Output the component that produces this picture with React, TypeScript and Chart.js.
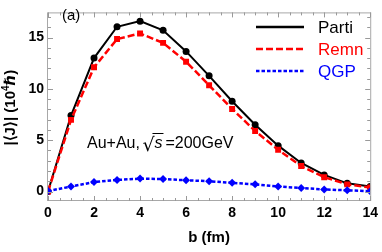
import React, { useEffect, useRef } from 'react';
import { Chart, registerables } from 'chart.js';

Chart.register(...registerables);

const bValues = [0, 1, 2, 3, 4, 5, 6, 7, 8, 9, 10, 11, 12, 13, 14];
const partiValues = [0, 7.4, 13.0, 16.05, 16.6, 15.7, 13.65, 11.27, 8.8, 6.5, 4.47, 2.78, 1.62, 0.8, 0.49];
const remnValues = [0, 6.98, 12.1, 14.85, 15.4, 14.48, 12.65, 10.35, 8.05, 5.9, 4.07, 2.48, 1.4, 0.7, 0.4];
const qgpValues = [0.05, 0.49, 0.92, 1.13, 1.26, 1.22, 1.1, 1.01, 0.85, 0.7, 0.49, 0.34, 0.21, 0.12, 0.03];
const seriesLabels = ['Parti', 'Remn', 'QGP'];
const xTickValues = [0, 2, 4, 6, 8, 10, 12, 14];
const yTickValues = [0, 5, 10, 15];
const xTitle = 'b (fm)';
const panelLabel = '(a)';

const FONT = '"Liberation Sans", Arial, Helvetica, sans-serif';

const framePlugin = {
  id: 'framePlugin',
  afterDraw(chart: any) {
    const { ctx, chartArea } = chart;
    const { left, right, top, bottom } = chartArea;
    const xs = chart.scales.x;
    const ys = chart.scales.y;
    ctx.save();
    // frame
    ctx.strokeStyle = '#a8a8a8';
    ctx.lineWidth = 1;
    ctx.strokeRect(left - 0.5, top + 0.5, right - left + 1, bottom - top - 1);
    // ticks
    ctx.strokeStyle = '#999';
    ctx.beginPath();
    for (let v = xs.min; v <= xs.max + 1e-6; v += 0.5) {
      const major = Math.abs(v / 2 - Math.round(v / 2)) < 1e-6;
      const len = major ? 5 : 3;
      const px = Math.round(xs.getPixelForValue(v)) + 0.5;
      ctx.moveTo(px, bottom);
      ctx.lineTo(px, bottom - len);
      ctx.moveTo(px, top);
      ctx.lineTo(px, top + len);
    }
    for (let v = 0; v <= ys.max + 1e-6; v += 1) {
      const major = v % 5 === 0;
      const len = major ? 5 : 3;
      const py = Math.round(ys.getPixelForValue(v)) + 0.5;
      ctx.moveTo(left, py);
      ctx.lineTo(left + len, py);
      ctx.moveTo(right, py);
      ctx.lineTo(right - len, py);
    }
    ctx.stroke();

    // legend
    const ds = chart.data.datasets;
    const legendY = [27, 49, 71];
    ds.forEach((d: any, i: number) => {
      ctx.beginPath();
      ctx.strokeStyle = d.borderColor;
      ctx.lineWidth = 2.5;
      ctx.setLineDash(d.borderDash || []);
      ctx.moveTo(256, legendY[i]);
      ctx.lineTo(304, legendY[i]);
      ctx.stroke();
      ctx.setLineDash([]);
      ctx.fillStyle = d.borderColor;
      ctx.font = `17px ${FONT}`;
      ctx.textBaseline = 'middle';
      ctx.textAlign = 'left';
      ctx.fillText(d.label, 318, legendY[i] + 1);
    });

    // panel label
    ctx.fillStyle = '#000';
    ctx.font = `15px ${FONT}`;
    ctx.textBaseline = 'middle';
    ctx.fillText(panelLabel, 62, 16);

    // Au+Au annotation
    ctx.textBaseline = 'alphabetic';
    ctx.font = `16px ${FONT}`;
    let x = 87;
    const base = 148;
    const t1 = 'Au+Au, ';
    ctx.fillText(t1, x, base);
    x += ctx.measureText(t1).width - 2;
    ctx.font = `19px "DejaVu Sans", ${FONT}`;
    ctx.fillText('\u221A', x, base + 3);
    const rw = ctx.measureText('\u221A').width;
    x += rw - 1;
    ctx.font = `italic 16px ${FONT}`;
    const sw = ctx.measureText('s').width;
    ctx.fillText('s', x + 1, base);
    ctx.beginPath();
    ctx.strokeStyle = '#000';
    ctx.lineWidth = 1;
    ctx.moveTo(x - 1, 133.5);
    ctx.lineTo(x + sw + 2, 133.5);
    ctx.stroke();
    x += sw + 4;
    ctx.font = `16px ${FONT}`;
    ctx.fillText('=200GeV', x, base);

    // x title
    ctx.font = `bold 15px ${FONT}`;
    ctx.textAlign = 'center';
    ctx.textBaseline = 'middle';
    ctx.fillText(xTitle, (left + right) / 2, 238);

    // y title
    ctx.save();
    ctx.translate(11, (top + bottom) / 2 + 1);
    ctx.rotate(-Math.PI / 2);
    const parts: [string, string, number][] = [
      ['|\u27E8J\u27E9| (10', `bold 15px ${FONT}`, 0],
      ['4', `bold 10px ${FONT}`, -5],
      ['\u210F', `bold italic 15px "DejaVu Sans", ${FONT}`, 0],
      [')', `bold 15px ${FONT}`, 0],
    ];
    let total = 0;
    parts.forEach((p) => {
      ctx.font = p[1];
      total += ctx.measureText(p[0]).width;
    });
    let cx = -total / 2;
    ctx.textAlign = 'left';
    ctx.textBaseline = 'middle';
    parts.forEach((p) => {
      ctx.font = p[1];
      ctx.fillText(p[0], cx, p[2]);
      cx += ctx.measureText(p[0]).width;
    });
    ctx.restore();

    ctx.restore();
  },
};

export default function App() {
  const canvasRef = useRef<HTMLCanvasElement | null>(null);

  useEffect(() => {
    document.body.style.margin = '0';
    const canvas = canvasRef.current;
    if (!canvas) return;
    const mk = (arr: number[]) => bValues.map((b, i) => ({ x: b, y: arr[i] }));
    const chart = new Chart(canvas, {
      type: 'line',
      data: {
        datasets: [
          {
            label: seriesLabels[0],
            data: mk(partiValues),
            borderColor: '#000000',
            backgroundColor: '#000000',
            borderWidth: 2,
            pointStyle: 'circle',
            pointRadius: 3.5,
            pointBorderWidth: 0,
            order: 3,
          },
          {
            label: seriesLabels[1],
            data: mk(remnValues),
            borderColor: '#ff0000',
            backgroundColor: '#ff0000',
            borderWidth: 2.5,
            borderDash: [7, 3],
            pointStyle: 'rect',
            pointRadius: 4.2,
            pointBorderWidth: 0,
            order: 2,
          },
          {
            label: seriesLabels[2],
            data: mk(qgpValues),
            borderColor: '#0000ff',
            backgroundColor: '#0000ff',
            borderWidth: 2.5,
            borderDash: [3.5, 2],
            pointStyle: 'rectRot',
            pointRadius: 4,
            pointBorderWidth: 0,
            order: 1,
          },
        ],
      },
      options: {
        responsive: false,
        animation: false,
        layout: { padding: { top: 1, right: 10, left: 0, bottom: 0 } },
        plugins: { legend: { display: false }, tooltip: { enabled: false } },
        elements: { line: { tension: 0 } },
        scales: {
          x: {
            type: 'linear',
            min: 0,
            max: 14,
            grid: { display: false, drawTicks: false, tickLength: 0 },
            border: { display: false },
            afterBuildTicks: (s: any) => {
              s.ticks = xTickValues.map((v) => ({ value: v }));
            },
            afterFit: (s: any) => {
              s.height = 51;
            },
            ticks: {
              padding: 4,
              maxRotation: 0,
              color: '#000',
              font: { family: FONT, size: 14, weight: 'bold' },
            },
          },
          y: {
            type: 'linear',
            min: -0.92,
            max: 17.45,
            grid: { display: false, drawTicks: false, tickLength: 0 },
            border: { display: false },
            afterBuildTicks: (s: any) => {
              s.ticks = yTickValues.map((v) => ({ value: v }));
            },
            afterFit: (s: any) => {
              s.width = 48;
            },
            ticks: {
              padding: 4,
              color: '#000',
              font: { family: FONT, size: 14, weight: 'bold' },
            },
          },
        },
      },
      plugins: [framePlugin],
    });
    return () => chart.destroy();
  }, []);

  return (
    <div style={{ width: 382, height: 252 }}>
      <canvas ref={canvasRef} width={382} height={252} style={{ display: 'block' }} />
    </div>
  );
}
